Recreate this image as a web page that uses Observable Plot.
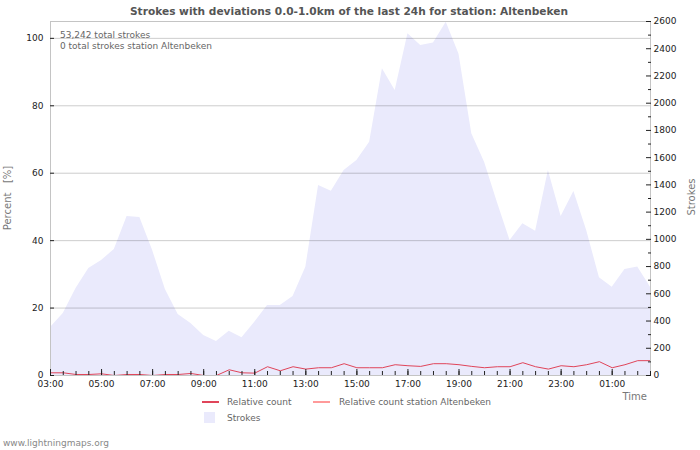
<!DOCTYPE html>
<html><head><meta charset="utf-8">
<script src="https://cdn.jsdelivr.net/npm/d3@7"></script>
<script src="https://cdn.jsdelivr.net/npm/@observablehq/plot@0.6"></script>
<style>
body{margin:0;background:#fff;}
#wrap{position:relative;width:700px;height:450px;font-family:"DejaVu Sans",sans-serif;overflow:hidden;background:#fff}
#wrap svg{position:absolute;left:0;top:0}
.t{position:absolute;white-space:nowrap;line-height:1}
.sw{position:absolute}
</style></head><body>
<div id="wrap"></div>
<script>
// ---- data ----
const times = ["03:00","03:30","04:00","04:30","05:00","05:30","06:00","06:30","07:00","07:30","08:00","08:30",
  "09:00","09:30","10:00","10:30","11:00","11:30","12:00","12:30","13:00","13:30","14:00","14:30",
  "15:00","15:30","16:00","16:30","17:00","17:30","18:00","18:30","19:00","19:30","20:00","20:30",
  "21:00","21:30","22:00","22:30","23:00","23:30","00:00","00:30","01:00","01:30","02:00","02:30"];
const strokes = [353,455,639,786,845,925,1168,1160,918,632,448,382,
  294,250,325,277,391,514,514,580,795,1396,1354,1506,
  1579,1714,2253,2093,2510,2424,2443,2595,2360,1775,1567,1273,
  992,1114,1060,1506,1168,1351,1065,718,649,779,796,649];
const relCount = [0.8,0.8,0.3,0.3,0.5,0,0.3,0.3,0,0.3,0.3,0.6,
  0,0,1.7,0.8,0.7,2.6,1.4,2.6,1.9,2.3,2.3,3.5,
  2.3,2.3,2.3,3.2,2.9,2.7,3.5,3.5,3.2,2.7,2.3,2.6,
  2.6,3.8,2.6,1.9,2.9,2.6,3.2,4.1,2.3,3.2,4.4,4.4];
const timeLabels = ["03:00","05:00","07:00","09:00","11:00","13:00","15:00","17:00","19:00","21:00","23:00","01:00"];
const percentTicks = [0,20,40,60,80,100];
const percentGrid = [20,40,60,80,100];
const strokeTicks = [0,200,400,600,800,1000,1200,1400,1600,1800,2000,2200,2400,2600];
const strokeMinor = [100,300,500,700,900,1100,1300,1500,1700,1900,2100,2300,2500];
const percentMax = 105, strokesMax = 2600;
const timeStart = "03:00", timeEnd = "02:30";

// ---- build ----
const K = percentMax / strokesMax;
const parse = s => { const [h,m] = s.split(":").map(Number); return new Date(Date.UTC(2024,0, h < 3 ? 2 : 1, h, m)); };
const data = times.map((s,i) => ({t: parse(s), strokes: strokes[i], rel: relCount[i]}));
const fmt = d3.utcFormat("%H:%M");

const chart = Plot.plot({
  width: 700, height: 450,
  marginTop: 21, marginBottom: 75, marginLeft: 50, marginRight: 50,
  x: {type: "utc", domain: [parse(timeStart), parse(timeEnd)]},
  y: {domain: [0, percentMax]},
  style: {fontFamily: "DejaVu Sans", fontSize: "9px", color: "#222", background: "transparent"},
  marks: [
    Plot.areaY(data, {x: "t", y: d => d.strokes * K, fill: "#eaeafc"}),
    Plot.ruleY(percentGrid, {stroke: "#000", strokeOpacity: 0.2}),
    Plot.lineY(data, {x: "t", y: "rel", stroke: "#e0455a", strokeWidth: 1}),
    Plot.frame({stroke: "#c4c4c4"}),
    Plot.axisY(percentTicks, {anchor: "left", tickSize: -4, tickPadding: 11, label: null}),
    Plot.axisY(strokeTicks.map(s => s * K), {anchor: "right", tickSize: -5, tickPadding: 8, label: null,
      tickFormat: v => String(Math.round(v / K))}),
    Plot.axisY(strokeMinor.map(s => s * K), {anchor: "right", tickSize: -3, label: null, tickFormat: () => ""}),
    Plot.axisX(times.map(parse), {tickSize: -4, label: null, tickFormat: () => ""}),
    Plot.axisX(timeLabels.map(parse), {tickSize: -6, tickPadding: 11, label: null, tickFormat: fmt})
  ]
});
const wrap = document.getElementById("wrap");
wrap.appendChild(chart);

function txt(s, css) { const e = document.createElement("div"); e.className = "t"; e.textContent = s; Object.assign(e.style, css); wrap.appendChild(e); return e; }
function sw(css) { const e = document.createElement("div"); e.className = "sw"; Object.assign(e.style, css); wrap.appendChild(e); }

txt("Strokes with deviations 0.0-1.0km of the last 24h for station: Altenbeken",
  {left: "0px", width: "698px", textAlign: "center", top: "6px", fontSize: "10.6px", fontWeight: "bold", color: "#555"});
txt("53,242 total strokes", {left: "60px", top: "31.4px", fontSize: "9px", color: "#666"});
txt("0 total strokes station Altenbeken", {left: "60px", top: "42.4px", fontSize: "9px", color: "#666"});
txt("Percent   [%]", {left: "8px", top: "198px", fontSize: "10px", color: "#777", whiteSpace: "pre",
  transform: "translate(-50%,-50%) rotate(-90deg)"});
txt("Strokes", {left: "692px", top: "197px", fontSize: "10px", color: "#777",
  transform: "translate(-50%,-50%) rotate(-90deg)"});
txt("Time", {right: "53px", top: "392.2px", fontSize: "10px", color: "#777"});
sw({left: "202px", top: "401px", width: "17px", height: "2px", background: "#e0455a"});
txt("Relative count", {left: "227px", top: "398.4px", fontSize: "9px", color: "#666"});
sw({left: "313px", top: "401px", width: "17px", height: "2px", background: "#ff9a9a"});
txt("Relative count station Altenbeken", {left: "339px", top: "398.4px", fontSize: "9px", color: "#666"});
sw({left: "204px", top: "412px", width: "11px", height: "11px", background: "#eaeafc"});
txt("Strokes", {left: "227px", top: "413.9px", fontSize: "9px", color: "#666"});
txt("www.lightningmaps.org", {left: "3px", top: "438.9px", fontSize: "9px", color: "#888"});
</script>
</body></html>
